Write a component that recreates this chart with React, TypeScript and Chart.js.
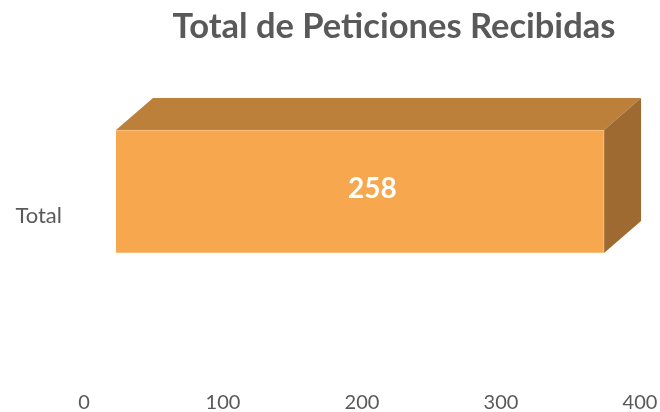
import React, { useEffect, useRef } from "react";
import { Chart, registerables } from "chart.js";

Chart.register(...registerables);

const TITLE = "Total de Peticiones Recibidas";
const categories = ["Total"];
const values = [258];
const tickValues = [0, 100, 200, 300, 400];

const FRONT = "#F7A84F";
const TOP = "#BC803A";
const SIDE = "#9E6A32";
const GREY = "#595959";
const FONT = "Lato, 'Open Sans', sans-serif";
const DEPTH_X = 37;
const DEPTH_Y = -32;

const threeD = {
  id: "threeD",
  beforeDatasetsDraw(chart: any) {
    const ctx = chart.ctx;
    const meta = chart.getDatasetMeta(0);
    const dx = DEPTH_X;
    const dy = DEPTH_Y;
    meta.data.forEach((el: any) => {
      const left = Math.min(el.base, el.x);
      const right = Math.max(el.base, el.x);
      const top = el.y - el.height / 2;
      const bottom = el.y + el.height / 2;
      ctx.save();
      ctx.fillStyle = TOP;
      ctx.beginPath();
      ctx.moveTo(left, top);
      ctx.lineTo(right, top);
      ctx.lineTo(right + dx, top + dy);
      ctx.lineTo(left + dx, top + dy);
      ctx.closePath();
      ctx.fill();
      ctx.fillStyle = SIDE;
      ctx.beginPath();
      ctx.moveTo(right, top);
      ctx.lineTo(right + dx, top + dy);
      ctx.lineTo(right + dx, bottom + dy);
      ctx.lineTo(right, bottom);
      ctx.closePath();
      ctx.fill();
      ctx.restore();
    });
  },
  afterDatasetsDraw(chart: any) {
    const ctx = chart.ctx;
    const meta = chart.getDatasetMeta(0);
    meta.data.forEach((el: any, i: number) => {
      const cx = (el.base + el.x) / 2 + DEPTH_X / 3;
      ctx.save();
      ctx.fillStyle = "#FFFFFF";
      ctx.font = "bold 28px " + FONT;
      ctx.textAlign = "center";
      ctx.textBaseline = "middle";
      ctx.fillText(String(values[i]), cx, el.y - 3);
      ctx.restore();
    });
  },
  afterDraw(chart: any) {
    const ctx = chart.ctx;
    ctx.save();
    ctx.fillStyle = GREY;
    ctx.font = "bold 34.5px " + FONT;
    ctx.textAlign = "center";
    ctx.textBaseline = "middle";
    ctx.fillText(TITLE, 394, 27);
    ctx.restore();
  },
};

export default function App() {
  const ref = useRef<HTMLCanvasElement | null>(null);
  useEffect(() => {
    if (!ref.current) return;
    const chart = new Chart(ref.current, {
      type: "bar",
      data: {
        labels: categories,
        datasets: [
          {
            data: values,
            backgroundColor: FRONT,
            borderColor: "#F9C48A",
            borderWidth: 1,
            barThickness: 123,
            xAxisID: "xb",
            yAxisID: "y",
          },
        ],
      },
      options: {
        indexAxis: "y",
        responsive: false,
        animation: false,
        layout: { padding: { top: 93, right: 20, left: 0, bottom: 0 } },
        plugins: {
          legend: { display: false },
          title: { display: false },
          tooltip: { enabled: false },
        },
        scales: {
          x: {
            type: "linear",
            position: "bottom",
            min: tickValues[0],
            max: tickValues[tickValues.length - 1],
            afterBuildTicks: (scale: any) => {
              scale.ticks = tickValues.map((v) => ({ value: v }));
            },
            grid: { display: false, drawTicks: false },
            border: { display: false },
            ticks: {
              color: GREY,
              font: { family: FONT, size: 20 },
              padding: 101,
              maxRotation: 0,
            },
            afterFit: (scale: any) => {
              scale.height = 122;
              scale.paddingLeft = 0;
              scale.paddingRight = 20;
            },
          },
          xb: {
            type: "linear",
            display: false,
            min: -16.9,
            max: 277.0,
          },
          y: {
            type: "category",
            position: "left",
            grid: { display: false, drawTicks: false },
            border: { display: false },
            ticks: {
              color: GREY,
              font: { family: FONT, size: 22 },
              padding: 22,
              labelOffset: 24,
            },
            afterFit: (scale: any) => {
              scale.width = 84;
            },
          },
        },
      },
      plugins: [threeD],
    } as any);
    return () => chart.destroy();
  }, []);
  return (
    <div style={{ position: "fixed", left: 0, top: 0, width: 660, height: 412, background: "#fff" }}>
      <canvas ref={ref} width={660} height={412} />
    </div>
  );
}
